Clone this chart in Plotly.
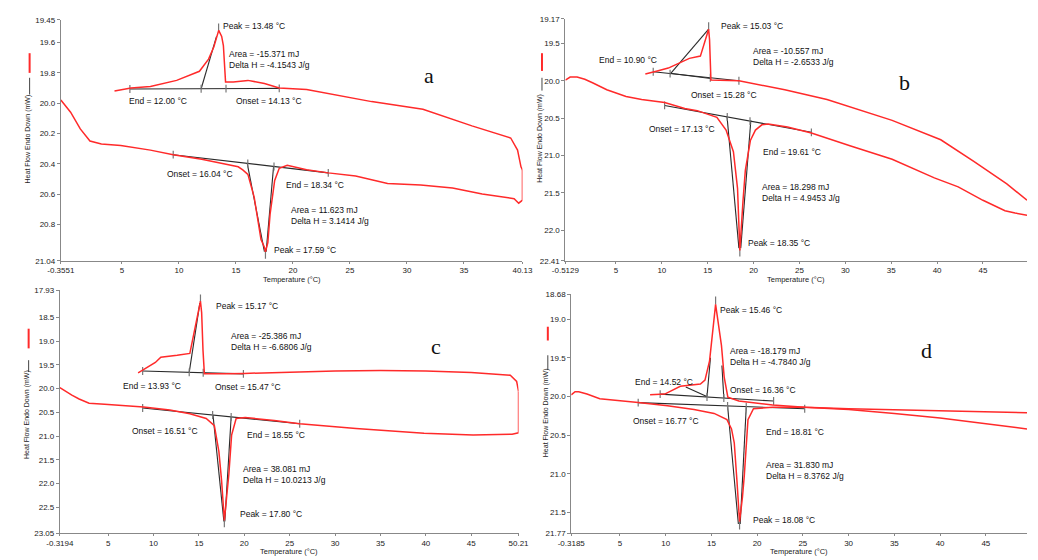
import plotly.graph_objects as go
import numpy as np

W, H = 1038, 560

# ---------------- Panel a ----------------
a_heat_x = [-0.3551, 0.5, 1.35, 2.2, 3.2, 4.9, 7.5, 9.5, 12.0, 14.1, 15.2, 15.6, 16.05, 16.6, 17.2, 17.5, 17.59,
            17.8, 18.0, 18.4, 18.8, 19.5, 21.2, 23.1, 25.5, 28.3, 31.2, 34.0, 36.6, 39.4, 39.8, 40.13, 40.13]
a_heat_y = [19.98, 20.06, 20.17, 20.25, 20.27, 20.28, 20.31, 20.34, 20.37, 20.40, 20.42, 20.44, 20.47, 20.62, 20.90,
            20.95, 20.98, 20.92, 20.73, 20.51, 20.43, 20.41, 20.44, 20.46, 20.48, 20.53, 20.54, 20.56, 20.60, 20.63,
            20.66, 20.64, 20.44]
a_cool_x = [40.13, 40.0, 39.7, 39.1, 35.7, 31.4, 26.9, 24.0, 21.2, 18.8, 17.5, 16.05, 14.77, 14.09, 13.9, 13.75,
            13.49, 13.06, 12.6, 11.8, 9.8, 7.5, 5.8, 4.35]
a_cool_y = [20.44, 20.42, 20.31, 20.23, 20.15, 20.04, 19.99, 19.95, 19.91, 19.90, 19.87, 19.85, 19.86, 19.86, 19.62,
            19.56, 19.52, 19.63, 19.71, 19.79, 19.85, 19.89, 19.90, 19.92]
a_lines = [((9.5, 23.1), (20.34, 20.46)), ((5.7, 18.8), (19.907, 19.903)),
           ((16.0, 17.5), (20.40, 20.98)), ((18.3, 17.65), (20.42, 20.98)), ((11.95, 13.3), (19.905, 19.56))]
a_ticks_heat = [9.5, 16.04, 18.34, 23.1]
a_ticks_cool = [5.7, 11.95, 14.13, 18.8]
a_peaks = [(17.59, 21.0), (13.48, 19.5)]
a_xtick_vals = [-0.3551, 5, 10, 15, 20, 25, 30, 35, 40.13]
a_xtick_text = ["-0.3551", "5", "10", "15", "20", "25", "30", "35", "40.13"]
a_ytick_vals = [19.45, 19.6, 19.8, 20.0, 20.2, 20.4, 20.6, 20.8, 21.04]
a_ytick_text = ["19.45", "19.6", "19.8", "20.0", "20.2", "20.4", "20.6", "20.8", "21.04"]

# ---------------- Panel b ----------------
b_heat_x = [-0.5129, 0.0, 0.76, 1.6, 2.5, 4.0, 6.1, 7.8, 10.3, 12.5, 13.85, 16.0, 17.0, 17.5, 17.8, 18.25, 18.5,
            18.85, 19.1, 19.65, 20.2, 20.9, 21.6, 23.7, 26.3, 30.5, 35.1, 39.7, 42.3, 45.0, 47.4, 48.5, 49.8]
b_heat_y = [19.99, 19.95, 19.95, 19.98, 20.03, 20.12, 20.21, 20.25, 20.29, 20.37, 20.40, 20.49, 20.66, 20.85, 20.95,
            21.44, 22.27, 21.6, 21.2, 20.8, 20.66, 20.59, 20.58, 20.62, 20.70, 20.87, 21.05, 21.30, 21.42, 21.60,
            21.74, 21.77, 21.80]
b_cool_x = [49.8, 47.6, 44.0, 40.4, 35.1, 28.0, 23.4, 18.4, 15.35, 15.3, 15.2, 15.1, 14.2, 13.0, 12.0, 10.7, 9.5, 8.2]
b_cool_y = [21.60, 21.38, 21.08, 20.79, 20.53, 20.25, 20.12, 20.00, 19.99, 19.7, 19.45, 19.31, 19.67, 19.70, 19.76,
            19.83, 19.87, 19.91]
b_lines = [((10.3, 26.3), (20.33, 20.69)), ((9.06, 18.4), (19.88, 20.0)), ((10.9, 15.3), (19.90, 19.97)),
           ((17.1, 18.4), (20.47, 22.24)), ((19.7, 18.6), (20.53, 22.24)), ((10.9, 15.1), (19.91, 19.31))]
b_ticks_heat = [10.3, 17.13, 19.61, 26.3]
b_ticks_cool = [9.06, 10.9, 15.28, 18.4]
b_peaks = [(18.5, 22.3), (15.1, 19.27)]
b_xtick_vals = [-0.5129, 5, 10, 15, 20, 25, 30, 35, 40, 45]
b_xtick_text = ["-0.5129", "5", "10", "15", "20", "25", "30", "35", "40", "45"]
b_ytick_vals = [19.17, 19.5, 20.0, 20.5, 21.0, 21.5, 22.0, 22.41]
b_ytick_text = ["19.17", "19.5", "20.0", "20.5", "21.0", "21.5", "22.0", "22.41"]

# ---------------- Panel c ----------------
c_heat_x = [-0.3194, 0.33, 1.0, 1.8, 2.9, 4.6, 8.9, 11.8, 14.0, 15.8, 16.7, 17.2, 17.5, 17.8, 18.1, 18.3, 18.6,
            19.1, 20.1, 23.3, 26.1, 32.3, 39.8, 45.2, 49.5, 50.21, 50.21]
c_heat_y = [19.98, 20.06, 20.14, 20.22, 20.31, 20.33, 20.39, 20.45, 20.53, 20.63, 20.78, 21.33, 21.95, 22.78, 22.2,
            21.8, 20.98, 20.63, 20.61, 20.67, 20.74, 20.84, 20.94, 20.98, 20.96, 20.93, 20.06]
c_cool_x = [50.21, 50.0, 49.3, 45.0, 40.0, 35.0, 30.0, 26.9, 20.0, 17.9, 15.6, 15.45, 15.3, 15.17, 15.0, 14.5, 14.0,
            12.6, 10.8, 10.2, 9.7, 9.0, 8.3]
c_cool_y = [20.06, 19.85, 19.72, 19.66, 19.63, 19.62, 19.63, 19.65, 19.68, 19.69, 19.69, 19.2, 18.4, 18.16, 18.32,
            18.79, 19.26, 19.30, 19.34, 19.45, 19.51, 19.6, 19.67]
c_lines = [((8.8, 26.1), (20.41, 20.74)), ((8.8, 19.9), (19.63, 19.69)),
           ((16.55, 17.75), (20.56, 22.8)), ((18.55, 17.85), (20.60, 22.8)), ((13.93, 15.1), (19.66, 18.2))]
c_ticks_heat = [8.8, 16.51, 18.55, 26.1]
c_ticks_cool = [8.8, 13.93, 15.47, 19.9]
c_peaks = [(17.8, 22.84), (15.17, 18.1)]
c_xtick_vals = [-0.3194, 5, 10, 15, 20, 25, 30, 35, 40, 45, 50.21]
c_xtick_text = ["-0.3194", "5", "10", "15", "20", "25", "30", "35", "40", "45", "50.21"]
c_ytick_vals = [17.93, 18.5, 19.0, 19.5, 20.0, 20.5, 21.0, 21.5, 22.0, 22.5, 23.05]
c_ytick_text = ["17.93", "18.5", "19.0", "19.5", "20.0", "20.5", "21.0", "21.5", "22.0", "22.5", "23.05"]

# ---------------- Panel d ----------------
d_heat_x = [-0.3185, 0.1, 0.5, 1.4, 2.8, 3.8, 7.0, 10.2, 13.1, 15.3, 16.7, 17.2, 17.5, 17.8, 18.08, 18.4, 18.6,
            19.0, 19.6, 21.7, 25.2, 30.0, 35.0, 40.0, 45.0, 49.5]
d_heat_y = [19.98, 19.94, 19.94, 19.97, 20.03, 20.04, 20.08, 20.12, 20.17, 20.22, 20.30, 20.42, 20.60, 21.10, 21.62,
            21.30, 21.02, 20.30, 20.16, 20.14, 20.14, 20.17, 20.22, 20.28, 20.35, 20.42]
d_cool_x = [49.5, 40.0, 30.0, 25.2, 21.7, 18.0, 16.8, 16.4, 16.1, 15.46, 14.8, 14.3, 13.8, 11.6, 9.9, 8.3]
d_cool_y = [20.21, 20.19, 20.16, 20.14, 20.11, 20.06, 20.01, 19.75, 19.34, 18.81, 19.54, 19.79, 19.84, 19.87,
            19.97, 19.98]
d_lines = [((7.0, 25.2), (20.08, 20.16)), ((9.4, 21.8), (19.97, 20.06)), ((12.2, 14.5), (19.88, 20.0)),
           ((16.77, 17.95), (20.12, 21.65)), ((18.81, 18.15), (20.14, 21.65)),
           ((14.52, 14.9), (20.0, 19.5)), ((16.36, 16.15), (20.02, 19.6))]
d_ticks_heat = [7.0, 16.77, 18.81, 25.2]
d_ticks_cool = [9.4, 14.52, 16.36, 21.8]
d_peaks = [(18.08, 21.67), (15.46, 18.76)]
d_xtick_vals = [-0.3185, 5, 10, 15, 20, 25, 30, 35, 40, 45]
d_xtick_text = ["-0.3185", "5", "10", "15", "20", "25", "30", "35", "40", "45"]
d_ytick_vals = [18.68, 19.0, 19.5, 20.0, 20.5, 21.0, 21.5, 21.77]
d_ytick_text = ["18.68", "19.0", "19.5", "20.0", "20.5", "21.0", "21.5", "21.77"]

# ---------------- text ----------------
a_texts = ["Peak = 13.48 °C", "Area = -15.371 mJ<br>Delta H = -4.1543 J/g", "End = 12.00 °C", "Onset = 14.13 °C",
           "Onset = 16.04 °C", "End = 18.34 °C", "Area = 11.623 mJ<br>Delta H = 3.1414 J/g", "Peak = 17.59 °C"]
b_texts = ["Peak = 15.03 °C", "Area = -10.557 mJ<br>Delta H = -2.6533 J/g", "End = 10.90 °C", "Onset = 15.28 °C",
           "Onset = 17.13 °C", "End = 19.61 °C", "Area = 18.298 mJ<br>Delta H = 4.9453 J/g", "Peak = 18.35 °C"]
c_texts = ["Peak = 15.17 °C", "Area = -25.386 mJ<br>Delta H = -6.6806 J/g", "End = 13.93 °C", "Onset = 15.47 °C",
           "Onset = 16.51 °C", "End = 18.55 °C", "Area = 38.081 mJ<br>Delta H = 10.0213 J/g", "Peak = 17.80 °C"]
d_texts = ["Peak = 15.46 °C", "Area = -18.179 mJ<br>Delta H = -4.7840 J/g", "End = 14.52 °C", "Onset = 16.36 °C",
           "Onset = 16.77 °C", "End = 18.81 °C", "Area = 31.830 mJ<br>Delta H = 8.3762 J/g", "Peak = 18.08 °C"]
panel_letters = ["a", "b", "c", "d"]
x_title = "Temperature (°C)"
y_title = "Heat Flow Endo Down (mW)"

# ---------------- layout geometry (pixels) ----------------
geo = {
    "a": dict(x0=48, x1=521, y0=16, y1=261, xr=[-0.3551, 40.13], yr=[19.45, 21.04]),
    "b": dict(x0=565, x1=1038, y0=15, y1=261, xr=[-0.5129, 49.8], yr=[19.17, 22.41]),
    "c": dict(x0=47, x1=517, y0=291, y1=538, xr=[-0.3194, 50.21], yr=[17.93, 23.05]),
    "d": dict(x0=571, x1=1038, y0=295, y1=538, xr=[-0.3185, 49.5], yr=[18.68, 21.77]),
}
xtitle_dy = {"a": 19, "b": 19, "c": 18, "d": 18}
text_pos = {
    "a": [(212, 22), (218, 56), (116, 99), (225, 99), (155, 173), (277, 184), (282, 215), (264, 250)],
    "b": [(722, 22), (755, 53), (597, 57), (692, 92), (649, 127), (765, 150), (764, 192), (750, 243)],
    "c": [(205, 307), (220, 343), (110, 388), (204, 389), (119, 434), (237, 438), (233, 478), (230, 518)],
    "d": [(721, 311), (732, 358), (634, 384), (732, 392), (632, 424), (769, 435), (769, 474), (755, 524)],
}
letter_pos = {"a": (425, 73), "b": (912, 80), "c": (432, 348), "d": (935, 352)}
ytitle_pos = {"a": (14, 137), "b": (539, 137), "c": (14, 417), "d": (545, 415)}
legend_red = {"a": (16, 50, 70), "b": (541, 50, 68), "c": (15, 330, 350), "d": (547, 328, 342)}
legend_blk = {"a": (16, 75, 92), "b": (541, 75, 88), "c": (15, 362, 374), "d": (547, 357, 372)}

data = {
    "a": (a_heat_x, a_heat_y, a_cool_x, a_cool_y, a_lines, a_ticks_heat, a_ticks_cool, a_peaks,
          a_xtick_vals, a_xtick_text, a_ytick_vals, a_ytick_text, a_texts),
    "b": (b_heat_x, b_heat_y, b_cool_x, b_cool_y, b_lines, b_ticks_heat, b_ticks_cool, b_peaks,
          b_xtick_vals, b_xtick_text, b_ytick_vals, b_ytick_text, b_texts),
    "c": (c_heat_x, c_heat_y, c_cool_x, c_cool_y, c_lines, c_ticks_heat, c_ticks_cool, c_peaks,
          c_xtick_vals, c_xtick_text, c_ytick_vals, c_ytick_text, c_texts),
    "d": (d_heat_x, d_heat_y, d_cool_x, d_cool_y, d_lines, d_ticks_heat, d_ticks_cool, d_peaks,
          d_xtick_vals, d_xtick_text, d_ytick_vals, d_ytick_text, d_texts),
}

FONT = "Liberation Sans, Arial, sans-serif"
RED = "#ff2a2a"
fig = go.Figure()
annotations = []
shapes = []
layout_axes = {}


def pxx(x):
    return x / W


def pxy(y):
    return 1 - y / H


for i, key in enumerate(["a", "b", "c", "d"]):
    g = geo[key]
    (hx, hy, cx, cy, lines, tk_h, tk_c, peaks, xtv, xtt, ytv, ytt, texts) = data[key]
    sfx = "" if i == 0 else str(i + 1)
    xa, ya = "x" + sfx, "y" + sfx
    ppu_y = (g["y1"] - g["y0"]) / (g["yr"][1] - g["yr"][0])
    half = 4.0 / ppu_y

    lx, ly = [], []
    for (xs, ys) in lines:
        lx += [xs[0], xs[1], None]
        ly += [ys[0], ys[1], None]
    fig.add_trace(go.Scatter(x=lx, y=ly, mode="lines", line=dict(color="#2a2a2a", width=1.1),
                             xaxis=xa, yaxis=ya, showlegend=False, hoverinfo="skip"))
    (bhx, bhy), (bcx, bcy) = lines[0], lines[1]
    tx, ty = [], []
    for t in tk_h:
        yv = float(np.interp(t, sorted(bhx), [bhy[0], bhy[1]] if bhx[0] < bhx[1] else [bhy[1], bhy[0]]))
        tx += [t, t, None]
        ty += [yv - half, yv + half, None]
    for t in tk_c:
        yv = float(np.interp(t, sorted(bcx), [bcy[0], bcy[1]] if bcx[0] < bcx[1] else [bcy[1], bcy[0]]))
        tx += [t, t, None]
        ty += [yv - half, yv + half, None]
    for (px_, py_) in peaks:
        tx += [px_, px_, None]
        ty += [py_ - half, py_ + half, None]
    fig.add_trace(go.Scatter(x=tx, y=ty, mode="lines", line=dict(color="#777777", width=1.2),
                             xaxis=xa, yaxis=ya, showlegend=False, hoverinfo="skip"))
    fig.add_trace(go.Scatter(x=hx, y=hy, mode="lines", line=dict(color=RED, width=1.5),
                             xaxis=xa, yaxis=ya, showlegend=False))
    fig.add_trace(go.Scatter(x=cx, y=cy, mode="lines", line=dict(color=RED, width=1.5),
                             xaxis=xa, yaxis=ya, showlegend=False))

    layout_axes["xaxis" + sfx] = dict(
        domain=[pxx(g["x0"]), pxx(g["x1"])], range=g["xr"], anchor=ya,
        tickmode="array", tickvals=xtv, ticktext=xtt, ticks="outside", ticklen=2, tickcolor="#888",
        showline=True, linecolor="#888", linewidth=1, showgrid=False, zeroline=False,
        tickfont=dict(family=FONT, size=8, color="#222"))
    layout_axes["yaxis" + sfx] = dict(
        domain=[pxy(g["y1"]), pxy(g["y0"])], range=[g["yr"][1], g["yr"][0]], anchor=xa,
        tickmode="array", tickvals=ytv, ticktext=ytt, ticks="outside", ticklen=3, tickcolor="#888",
        showline=True, linecolor="#888", linewidth=1, showgrid=False, zeroline=False,
        tickfont=dict(family=FONT, size=8, color="#222"))

    for txt, (ax_, ay_) in zip(texts, text_pos[key]):
        annotations.append(dict(x=pxx(ax_), y=pxy(ay_), xref="paper", yref="paper", text=txt,
                                showarrow=False, xanchor="left", yanchor="middle", align="left",
                                font=dict(family=FONT, size=8.5, color="#111")))
    lx_, ly_ = letter_pos[key]
    annotations.append(dict(x=pxx(lx_), y=pxy(ly_), xref="paper", yref="paper", text=panel_letters[i],
                            showarrow=False, xanchor="center", yanchor="middle",
                            font=dict(family="Liberation Serif, Times New Roman, serif", size=22, color="#111")))
    annotations.append(dict(x=pxx((g["x0"] + g["x1"]) / 2), y=pxy(g["y1"] + xtitle_dy[key]), xref="paper",
                            yref="paper", text=x_title, showarrow=False, xanchor="center", yanchor="middle",
                            font=dict(family=FONT, size=7.5, color="#222")))
    yx, yy = ytitle_pos[key]
    annotations.append(dict(x=pxx(yx), y=pxy(yy), xref="paper", yref="paper", text=y_title,
                            showarrow=False, textangle=-90, xanchor="center", yanchor="middle",
                            font=dict(family=FONT, size=7, color="#222")))
    rx, r0, r1 = legend_red[key]
    shapes.append(dict(type="line", xref="paper", yref="paper", x0=pxx(rx), x1=pxx(rx), y0=pxy(r0), y1=pxy(r1),
                       line=dict(color=RED, width=2)))
    bx, b0, b1 = legend_blk[key]
    shapes.append(dict(type="line", xref="paper", yref="paper", x0=pxx(bx), x1=pxx(bx), y0=pxy(b0), y1=pxy(b1),
                       line=dict(color="#444", width=1)))

fig.update_layout(
    width=W, height=H, margin=dict(l=0, r=0, t=0, b=0),
    paper_bgcolor="white", plot_bgcolor="white",
    annotations=annotations, shapes=shapes, showlegend=False,
    **layout_axes)

fig.write_html("out.html", config={"displayModeBar": False},
               post_script="document.body.style.margin='0';document.body.style.overflow='hidden';")
